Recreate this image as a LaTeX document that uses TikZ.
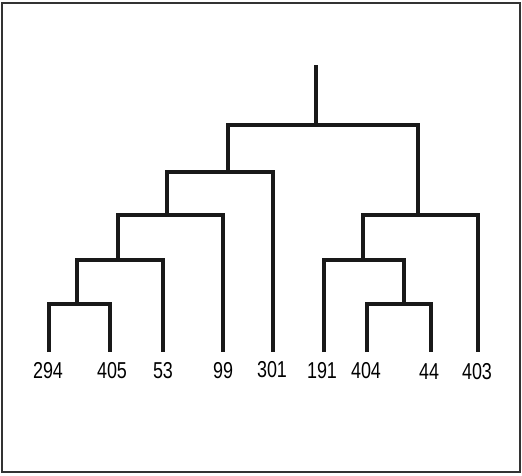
\documentclass[tikz,border=0pt]{standalone}
\usepackage{fontspec}
\newfontfamily\lblfont[FakeStretch=0.78]{Liberation Sans}
\begin{document}
\begin{tikzpicture}[x=1pt,y=-1pt,
  branch/.style={line width=4pt,line join=miter,black!90},
  leaflabel/.style={font=\lblfont\fontsize{23}{25}\selectfont,anchor=base,inner sep=0pt},
  frame/.style={line width=2pt,black!80}]
\useasboundingbox (0,0) rectangle (522,475);
\draw[frame] (2,3) rectangle (520,472);
% leaf ends
\coordinate (l294) at (49,352);
\coordinate (l405) at (110,352);
\coordinate (l53) at (163,352);
\coordinate (l99) at (223,352);
\coordinate (l301) at (273,352);
\coordinate (l191) at (324,352);
\coordinate (l404) at (367,352);
\coordinate (l44) at (431,352);
\coordinate (l403) at (478,352);
% internal junctions
\coordinate (top) at (316,65);
\coordinate (R) at (316,125);
\coordinate (A) at (228,172);
\coordinate (B) at (167,215);
\coordinate (C) at (118,260);
\coordinate (D) at (77,304);
\coordinate (E) at (418,215);
\coordinate (F) at (363,260);
\coordinate (G) at (404,304);
% tree
\draw[branch] (top) -- (R);
\draw[branch] (A) |- (R) -| (E);
\draw[branch] (B) |- (A) -| (l301);
\draw[branch] (C) |- (B) -| (l99);
\draw[branch] (D) |- (C) -| (l53);
\draw[branch] (l294) |- (D) -| (l405);
\draw[branch] (F) |- (E) -| (l403);
\draw[branch] (l191) |- (F) -| (G);
\draw[branch] (l404) |- (G) -| (l44);
% labels
\node[leaflabel] (t294) at (48,378) {294};
\node[leaflabel] (t405) at (112,378) {405};
\node[leaflabel] (t53) at (163,378) {53};
\node[leaflabel] (t99) at (223,378) {99};
\node[leaflabel] (t301) at (272,377) {301};
\node[leaflabel] (t191) at (322,378) {191};
\node[leaflabel] (t404) at (366,378) {404};
\node[leaflabel] (t44) at (429,379) {44};
\node[leaflabel] (t403) at (477,379) {403};
\end{tikzpicture}
\end{document}
